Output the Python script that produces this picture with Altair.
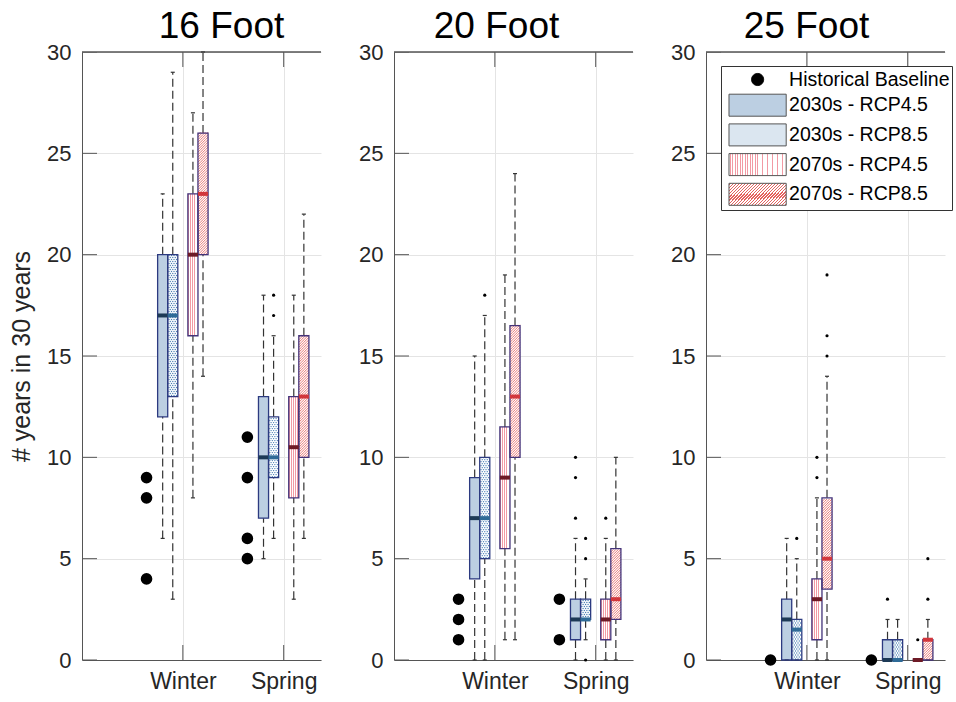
import altair as alt
import pandas as pd

# ---------------- data ----------------
panels = ["16 Foot", "20 Foot", "25 Foot"]
seasons = ["Winter", "Spring"]
series = ["2030s - RCP4.5", "2030s - RCP8.5", "2070s - RCP4.5", "2070s - RCP8.5"]
baseline_label = "Historical Baseline"
y_label = "# years in 30 years"
y_ticks = [0, 5, 10, 15, 20, 25, 30]

# one entry per box, ordered panel -> season -> series
whisker_lo = [6, 3, 8, 14,   5, 6, 3, 6,
              0, 0, 1, 1,    0, 1, 0, 0,
              0, 0, 0, 0,    0, 0, 0, 0]
box_q1 = [12, 13, 16, 20,    7, 9, 8, 10,
          4, 5, 5.5, 10,     1, 2, 1, 2,
          0, 0, 1, 3.5,      0, 0, 0, 0]
box_med = [17, 17, 20, 23,   10, 10, 10.5, 13,
           7, 7, 9, 13,      2, 2, 2, 3,
           2, 1.5, 3, 5,     0, 0, 0, 1]
box_q3 = [20, 20, 23, 26,    13, 12, 13, 16,
          9, 10, 11.5, 16.5, 3, 3, 3, 5.5,
          3, 2, 4, 8,        1, 1, 0, 1]
whisker_hi = [23, 29, 27, 30,  18, 16, 18, 22,
              15, 17, 19, 24,  6, 4, 6, 10,
              6, 5, 8, 14,     2, 2, 0, 2]
outliers = [[], [], [], [],          [], [17, 18], [], [],
            [], [18], [], [],        [7, 9, 10], [0, 5, 6], [7], [],
            [], [6], [9, 10], [15, 16, 19], [3], [], [1], [3, 5]]
# historical baseline per panel -> season
baseline = [[9, 8, 4], [11, 9, 6, 5],
            [3, 2, 1], [3, 1],
            [0], [0]]

# ---------------- styles ----------------
FONT = "Liberation Sans"
AX = "#555555"
GRID = "#e4e4e4"
TXT = "#262626"
WHISK = "#333333"
OFFSETS = [-0.2, -0.1, 0.1, 0.2]
HALF = 0.05
CAP = 0.02
BASE_OFF = -0.36
FILLS = ["#bccfe2", "#ffffff", "#ffffff", "#ffffff"]
EDGES = ["#2c3a80", "#2c3a80", "#43337a", "#43337a"]
MEDS = ["#1d3a56", "#2f6b97", "#6e1a26", "#d2363c"]
DOT = "#4a80b5"
HATCH = "#e4625f"
STRIPE = "#f29aa4"
X_MAX = 2.37
Y_MAX = 30
W, H = 239, 608
TITLE_DX = [20, -17, -19]
PX_X = X_MAX / W     # data units per pixel (x)
PX_Y = Y_MAX / H     # data units per pixel (y)


def stripe_gradient(n, half, color, x2=1, y2=0):
    stops = [{"offset": 0, "color": "#ffffff"}]
    for k in range(n):
        c = (k + 0.5) / n
        stops += [{"offset": c - half, "color": "#ffffff"},
                  {"offset": c - half, "color": color},
                  {"offset": c + half, "color": color},
                  {"offset": c + half, "color": "#ffffff"}]
    stops.append({"offset": 1, "color": "#ffffff"})
    return {"gradient": "linear", "x1": 0, "y1": 0, "x2": x2, "y2": y2, "stops": stops}


def expr_of(obj):
    # object literal for a Vega expression
    stops = ", ".join(f"{{offset: {s['offset']:.4f}, color: '{s['color']}'}}" for s in obj["stops"])
    return alt.ExprRef(expr=(f"{{gradient: 'linear', x1: {obj['x1']}, y1: {obj['y1']}, "
                             f"x2: {obj['x2']}, y2: {obj['y2']}, stops: [{stops}]}}"))


STRIPE_GRAD = stripe_gradient(5, 0.045, STRIPE)
LEG_STRIPE = stripe_gradient(23, 0.007, STRIPE)
LEG_HATCH = stripe_gradient(26, 0.008, HATCH, x2=1.2048, y2=0.4418)

LEG_NAMES = [baseline_label] + series
RECT = "M-2.6,-1H2.6V1H-2.6Z"
CIRC = "M-0.55,0A0.55,0.55,0,1,1,0.55,0A0.55,0.55,0,1,1,-0.55,0Z"
LEG_SHAPES = [CIRC, RECT, RECT, RECT, RECT]
LEG_FILLS = ["#000000", "#bccfe2", "#dbe6f0", expr_of(LEG_STRIPE), expr_of(LEG_HATCH)]
LEG_STROKES = ["#000000", "#555555", "#555555", "#555555", "#555555"]

# ---------------- tables ----------------
rows, orows, brows = [], [], []
k = 0
b = 0
for p in panels:
    for si, s in enumerate(seasons):
        for j, ser in enumerate(series):
            rows.append(dict(panel=p, season=s, spos=si + 1, sidx=j, series=ser,
                             lo=whisker_lo[k], q1=box_q1[k], med=box_med[k],
                             q3=box_q3[k], hi=whisker_hi[k]))
            for v in outliers[k]:
                orows.append(dict(panel=p, season=s, spos=si + 1, sidx=j, value=v))
            k += 1
        for v in baseline[b]:
            brows.append(dict(panel=p, season=s, spos=si + 1, value=v))
        b += 1
box_df = pd.DataFrame(rows)
out_df = pd.DataFrame(orows)
base_df = pd.DataFrame(brows)
tick_df = pd.DataFrame({"pos": [i + 1 for i in range(len(seasons))]})
ytick_df = pd.DataFrame({"v": y_ticks})
leg_df = pd.DataFrame({"name": LEG_NAMES})

xs = alt.Scale(domain=[0, X_MAX], nice=False, zero=False)
ys = alt.Scale(domain=[0, Y_MAX], nice=False, zero=False)


def panel_chart(i, name):
    flt = alt.datum.panel == name
    xaxis = alt.Axis(values=[i2 + 1 for i2 in range(len(seasons))],
                     labelExpr=f"{seasons}[datum.value - 1]",
                     ticks=False, domainColor=AX, domainWidth=1,
                     grid=True, gridColor=GRID, labelFontSize=23,
                     labelColor=TXT, labelPadding=10, title=None,
                     labelFont=FONT)
    yaxis = alt.Axis(values=y_ticks, ticks=False, domainColor=AX, domainWidth=1,
                     grid=True, gridColor=GRID, labelFontSize=22, labelColor=TXT,
                     labelPadding=11, labelFont=FONT,
                     title=y_label if i == 0 else None,
                     titleFontSize=25, titleFontWeight="normal", titleColor=TXT,
                     titleFont=FONT, titlePadding=12)

    def X(f):
        return alt.X(f, type="quantitative", scale=xs, axis=xaxis)

    def Y(f):
        return alt.Y(f, type="quantitative", scale=ys, axis=yaxis)

    bb = (alt.Chart(box_df).transform_filter(flt)
          .transform_calculate(xc=f"datum.spos + {OFFSETS}[datum.sidx]")
          .transform_calculate(xa=f"datum.xc - {HALF}")
          .transform_calculate(xb=f"datum.xc + {HALF}")
          .transform_calculate(ca=f"datum.xc - {CAP}")
          .transform_calculate(cb=f"datum.xc + {CAP}"))

    fill = bb.transform_calculate(fc=f"{FILLS}[datum.sidx]").mark_rect().encode(
        x=X("xa"), x2="xb", y=Y("q1"), y2="q3", fill=alt.Fill("fc:N", scale=None))

    # inward axis ticks
    xt_bot = alt.Chart(tick_df).mark_tick(orient="vertical", size=30, thickness=1,
                                          color=AX, opacity=1, clip=True).encode(
        x=X("pos"), y=alt.YDatum(0, type="quantitative", scale=ys, axis=yaxis))
    xt_top = alt.Chart(tick_df).mark_tick(orient="vertical", size=30, thickness=1,
                                          color=AX, opacity=1, clip=True).encode(
        x=X("pos"), y=alt.YDatum(Y_MAX, type="quantitative", scale=ys, axis=yaxis))
    yt = alt.Chart(ytick_df).mark_tick(orient="horizontal", size=30, thickness=1,
                                       color=AX, opacity=1, clip=True).encode(
        x=alt.XDatum(0, type="quantitative", scale=xs, axis=xaxis), y=Y("v"))
    top_line = alt.Chart(tick_df).mark_rule(color=AX, strokeWidth=1).encode(
        y=alt.YDatum(Y_MAX, type="quantitative", scale=ys, axis=yaxis))

    w_up = bb.mark_rule(color=WHISK, strokeWidth=1.2, strokeDash=[8, 4]).encode(
        x=X("xc"), y=Y("q3"), y2="hi")
    w_dn = bb.mark_rule(color=WHISK, strokeWidth=1.2, strokeDash=[8, 4]).encode(
        x=X("xc"), y=Y("lo"), y2="q1")
    caps = bb.transform_fold(["lo", "hi"], as_=["end", "cv"]).mark_rule(
        color=WHISK, strokeWidth=1.2).encode(x=X("ca"), x2="cb", y=Y("cv"))

    stripes = bb.transform_filter("datum.sidx == 2 && datum.q3 > datum.q1").mark_rect(
        fill=STRIPE_GRAD).encode(x=X("xa"), x2="xb", y=Y("q1"), y2="q3")

    dy = 2.0 * PX_Y
    dx = 2.5 * PX_X
    dots = (bb.transform_filter("datum.sidx == 1 && datum.q3 > datum.q1")
            .transform_calculate(ys=f"sequence(datum.q1 + {dy / 2}, datum.q3, {dy})")
            .transform_flatten(["ys"])
            .transform_calculate(row=f"round((datum.ys - datum.q1) / {dy} - 0.5)")
            .transform_calculate(xo=(f"datum.row % 2 == 0 ? [{-1.5 * dx}, {-0.5 * dx}, {0.5 * dx}, {1.5 * dx}]"
                                     f" : [{-dx}, 0, {dx}]"))
            .transform_flatten(["xo"])
            .transform_calculate(xd="datum.xc + datum.xo")
            .mark_circle(size=2.0, color=DOT, opacity=1)
            .encode(x=X("xd"), y=Y("ys")))

    hy = 2.5 * PX_Y
    hx = 2.5 * PX_X
    hatch = (bb.transform_filter("datum.sidx == 3 && datum.q3 > datum.q1")
             .transform_calculate(ys=f"sequence(datum.q1 + {hy / 2}, datum.q3, {hy})")
             .transform_flatten(["ys"])
             .transform_calculate(xo=f"[{-1.5 * hx}, {-0.5 * hx}, {0.5 * hx}, {1.5 * hx}]")
             .transform_flatten(["xo"])
             .transform_calculate(xd="datum.xc + datum.xo")
             .mark_point(shape="M-1,1L1,-1", size=6.25, strokeWidth=0.9, color=HATCH,
                         filled=False, opacity=1)
             .encode(x=X("xd"), y=Y("ys")))

    edges = bb.transform_calculate(sc=f"{EDGES}[datum.sidx]").mark_rect(
        fillOpacity=0, strokeWidth=1.3).encode(
        x=X("xa"), x2="xb", y=Y("q1"), y2="q3", stroke=alt.Stroke("sc:N", scale=None))
    meds = bb.transform_calculate(mc=f"{MEDS}[datum.sidx]").mark_rule(strokeWidth=4).encode(
        x=X("xa"), x2="xb", y=Y("med"), color=alt.Color("mc:N", scale=None))

    outs = (alt.Chart(out_df).transform_filter(flt)
            .transform_calculate(xc=f"datum.spos + {OFFSETS}[datum.sidx]")
            .mark_circle(size=10, color="black", opacity=1)
            .encode(x=X("xc"), y=Y("value")))
    base = (alt.Chart(base_df).transform_filter(flt)
            .transform_calculate(xc=f"datum.spos + {BASE_OFF}")
            .mark_circle(size=135, color="black", opacity=1)
            .encode(x=X("xc"), y=Y("value")))

    layers = [fill, xt_bot, xt_top, yt, top_line, w_up, w_dn, caps, stripes, dots,
              hatch, edges, meds, outs, base]

    if i == len(panels) - 1:
        leg = alt.Legend(title=None, orient="none", legendX=15, legendY=14,
                         symbolSize=484, symbolOffset=23.1, labelOffset=20,
                         rowPadding=2.7, padding=2, fillColor="white",
                         strokeColor="#333333", labelFontSize=19.5, labelFont=FONT,
                         labelColor="black", labelLimit=400, symbolStrokeWidth=1)
        legend_layer = (alt.Chart(leg_df).transform_filter("false")
                        .mark_point(filled=True, opacity=1)
                        .encode(fill=alt.Fill("name:N", scale=alt.Scale(domain=LEG_NAMES, range=LEG_FILLS), legend=leg),
                                stroke=alt.Stroke("name:N", scale=alt.Scale(domain=LEG_NAMES, range=LEG_STROKES), legend=leg),
                                shape=alt.Shape("name:N", scale=alt.Scale(domain=LEG_NAMES, range=LEG_SHAPES), legend=leg)))
        layers.append(legend_layer)

    return alt.layer(*layers).properties(
        width=W, height=H,
        title=alt.TitleParams(text=name, fontSize=37, fontWeight="normal", font=FONT,
                              color="black", offset=-5, dx=TITLE_DX[i]))


chart = (alt.hconcat(*[panel_chart(i, p) for i, p in enumerate(panels)], spacing=36)
         .resolve_scale(fill="independent", stroke="independent", shape="independent")
         .properties(padding={"left": 9, "top": 8, "right": 0, "bottom": 4})
         .configure(font=FONT)
         .configure_view(strokeWidth=0))

chart.save("out.html", embed_options={"renderer": "svg", "actions": False})
